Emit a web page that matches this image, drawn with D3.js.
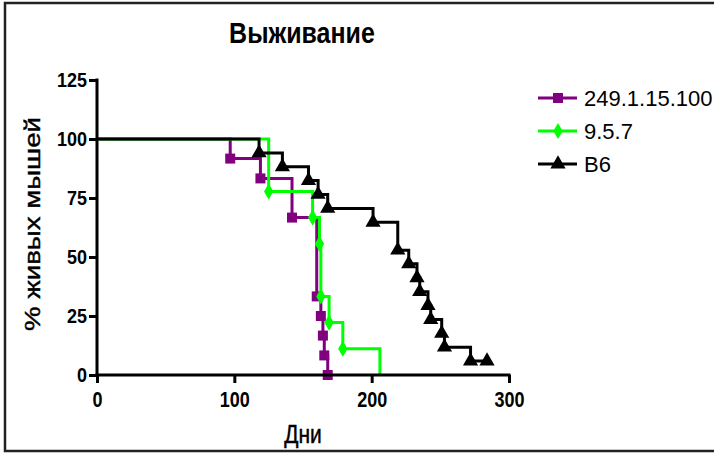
<!DOCTYPE html>
<html>
<head>
<meta charset="utf-8">
<script src="https://cdn.jsdelivr.net/npm/d3@7"></script>
<style>
  html, body { margin: 0; padding: 0; background: #fff; }
  svg { display: block; }
  text { font-family: Arial, "Liberation Sans", sans-serif; fill: #000; }
</style>
</head>
<body>
<svg id="chart" width="714" height="455"></svg>
<script>
// Kaplan–Meier survival data (days, % alive)
const seriesNames = ["249.1.15.100", "9.5.7", "B6"];
const seriesColors = ["#800080", "#00ff00", "#000000"];
const seriesSymbols = ["square", "diamond", "triangle"];
const markLastPoint = [true, false, true];

const daysA = [0, 97, 119, 142, 160, 163, 164.5, 165.5, 168];
const survA = [100, 91.7, 83.3, 66.7, 33.3, 25, 16.7, 8.3, 0];

const daysB = [0, 125, 157, 162, 163, 169, 179, 206];
const survB = [100, 77.8, 66.7, 55.6, 33.3, 22.2, 11.1, 0];

const daysC = [0, 118, 135, 154, 161, 168, 201, 219, 227, 233, 235, 241, 243, 251, 253, 272, 284];
const survC = [100, 94.1, 88.2, 82.4, 76.5, 70.6, 64.7, 52.9, 47.1, 41.2, 35.3, 29.4, 23.5, 17.6, 11.8, 5.9, 5.9];

const xTicks = [0, 100, 200, 300];
const yTicks = [0, 25, 50, 75, 100, 125];

const titleText = "Выживание";
const xTitle = "Дни";
const yTitle = "% живых мышей";

const series = [
  { name: seriesNames[0], color: seriesColors[0], symbol: seriesSymbols[0], days: daysA, surv: survA, last: markLastPoint[0] },
  { name: seriesNames[1], color: seriesColors[1], symbol: seriesSymbols[1], days: daysB, surv: survB, last: markLastPoint[1] },
  { name: seriesNames[2], color: seriesColors[2], symbol: seriesSymbols[2], days: daysC, surv: survC, last: markLastPoint[2] }
];

const svg = d3.select("#chart");

// outer frame
svg.append("rect")
  .attr("x", 5).attr("y", 3).attr("width", 730).attr("height", 448)
  .attr("fill", "none").attr("stroke", "#222").attr("stroke-width", 2.5);

const x = d3.scaleLinear().domain([0, 300]).range([97, 509]);
const y = d3.scaleLinear().domain([0, 125]).range([375, 80]);

const symbolGen = {
  square: d3.symbol().type(d3.symbolSquare).size(100),
  diamond: d3.symbol().type(d3.symbolDiamond).size(75),
  triangle: d3.symbol().type(d3.symbolTriangle).size(100)
};

const line = d3.line()
  .x(d => x(d[0]))
  .y(d => y(d[1]))
  .curve(d3.curveStepAfter);

const plot = svg.append("g");

series.forEach(s => {
  const pts = s.days.map((d, i) => [d, s.surv[i]]);
  plot.append("path")
    .attr("d", line(pts))
    .attr("fill", "none")
    .attr("stroke", s.color)
    .attr("stroke-width", 3);
  const marks = pts.slice(1, s.last ? pts.length : pts.length - 1);
  plot.selectAll(null)
    .data(marks)
    .enter().append("path")
    .attr("d", symbolGen[s.symbol]())
    .attr("transform", d => `translate(${x(d[0])},${y(d[1])})`)
    .attr("fill", s.color);
});

// axes
const axisStyle = g => {
  g.select(".domain").remove();
  g.selectAll(".tick line").attr("stroke", "#000").attr("stroke-width", 3);
  g.selectAll(".tick text")
    .style("font-family", "Arial, 'Liberation Sans', sans-serif")
    .style("font-size", "18px").style("font-weight", "bold").attr("fill", "#000");
};

const yAxis = svg.append("g")
  .attr("transform", "translate(97,0)")
  .call(d3.axisLeft(y).tickValues(yTicks).tickSize(8).tickPadding(2))
  .call(axisStyle);
yAxis.selectAll(".tick text")
  .attr("dy", null).attr("y", 0)
  .attr("transform", "translate(0,6.5) scale(1,1.08)");

const xAxis = svg.append("g")
  .attr("transform", "translate(0,375)")
  .call(d3.axisBottom(x).tickValues(xTicks).tickSize(8).tickPadding(3))
  .call(axisStyle);
xAxis.selectAll(".tick text")
  .attr("dy", null).attr("y", 0)
  .attr("transform", "translate(0,32) scale(1,1.2)");

svg.append("line")
  .attr("x1", x(0)).attr("x2", x(0)).attr("y1", y(125) - 1.5).attr("y2", y(0) + 1.5)
  .attr("stroke", "#000").attr("stroke-width", 3);
svg.append("line")
  .attr("x1", x(0) - 1.5).attr("x2", x(300) + 1.5).attr("y1", y(0)).attr("y2", y(0))
  .attr("stroke", "#000").attr("stroke-width", 3);

// titles
svg.append("text")
  .attr("transform", "translate(302,43) scale(1,1.15)")
  .attr("text-anchor", "middle")
  .style("font-size", "25px").style("font-weight", "bold")
  .text(titleText);

svg.append("text")
  .attr("transform", "translate(303,443) scale(1,1.2)")
  .attr("text-anchor", "middle")
  .style("font-size", "21px")
  .style("stroke", "#000").style("stroke-width", 0.4)
  .text(xTitle);

svg.append("text")
  .attr("transform", "translate(40,224) rotate(-90)")
  .attr("text-anchor", "middle")
  .attr("textLength", 214).attr("lengthAdjust", "spacingAndGlyphs")
  .style("font-size", "22px")
  .style("stroke", "#000").style("stroke-width", 0.4)
  .text(yTitle);

// legend
const legend = svg.append("g");
series.forEach((s, i) => {
  const cy = 98 + i * 33;
  legend.append("line")
    .attr("x1", 538).attr("x2", 577).attr("y1", cy).attr("y2", cy)
    .attr("stroke", s.color).attr("stroke-width", 3);
  legend.append("path")
    .attr("d", symbolGen[s.symbol]())
    .attr("transform", `translate(558,${cy})`)
    .attr("fill", s.color);
  legend.append("text")
    .attr("x", 584).attr("y", cy + 8)
    .style("font-size", "22px")
    .text(s.name);
});
</script>
</body>
</html>
